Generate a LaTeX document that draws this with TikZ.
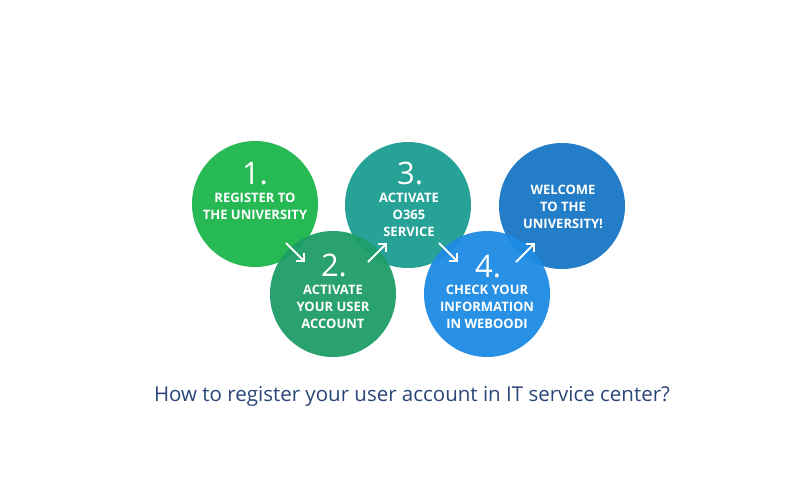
\documentclass[tikz,border=0pt]{standalone}
\usepackage{fontspec}
\setmainfont{Open Sans}
\definecolor{stepone}{RGB}{28, 182, 74}
\definecolor{steptwo}{RGB}{30, 158, 104}
\definecolor{stepthree}{RGB}{28, 158, 146}
\definecolor{stepfour}{RGB}{30, 140, 228}
\definecolor{stepfive}{RGB}{25, 120, 196}
\definecolor{captionblue}{RGB}{42, 70, 120}
\usetikzlibrary{arrows.meta, calc}
\tikzset{
    stepcircle/.style={circle, minimum size=126pt, inner sep=0pt,
        fill opacity=.95},
    stepnum/.style={text=white, inner sep=0pt, anchor=base,
        font=\fontsize{31}{31}\selectfont},
    steptext/.style={text=white, align=center, inner sep=0pt,
        font=\bfseries\fontsize{13}{17}\selectfont},
    steparrow/.style={white, line width=2pt,
        -{Straight Barb[length=5.5pt, width=11pt]}},
}

\begin{document}
\begin{tikzpicture}[x=1pt, y=-1pt]
        \useasboundingbox[fill=white] (0, 0) rectangle (810, 488);
        \foreach \n/\x/\y/\col in {1/255/204/stepone, 3/408/205/stepthree,
            5/562/206/stepfive, 2/333/294/steptwo, 4/487/294/stepfour}{
            \node[stepcircle, fill=\col] (c\n) at (\x, \y) {};
        }
        \node[stepnum] (n1) at (255, 184) {1.};
        \node[steptext] (t1) at (255, 206) {REGISTER TO\\THE UNIVERSITY};
        \node[stepnum] (n2) at (334, 276) {2.};
        \node[steptext] (t2) at (333, 307) {ACTIVATE\\YOUR USER\\ACCOUNT};
        \node[stepnum] (n3) at (410, 184) {3.};
        \node[steptext] (t3) at (409, 215) {ACTIVATE\\O365\\SERVICE};
        \node[stepnum] (n4) at (488, 277) {4.};
        \node[steptext] (t4) at (487, 307) {CHECK YOUR\\INFORMATION\\IN WEBOODI};
        \node[steptext] (t5) at (563, 207) {WELCOME\\TO THE\\UNIVERSITY!};
        % arrows between the circles
        \coordinate (a1s) at (286, 243);
        \coordinate (a1e) at (305, 262);
        \coordinate (a2s) at (368, 262);
        \coordinate (a2e) at (387, 243);
        \coordinate (a3s) at (439, 243);
        \coordinate (a3e) at (458, 262);
        \coordinate (a4s) at (516, 262);
        \coordinate (a4e) at (535, 243);
        \foreach \i in {1, 2, 3, 4}{
            \draw[steparrow] (a\i s) -- (a\i e);
        }
        \node[text=captionblue, font=\fontsize{20.5}{20.5}\selectfont] (caption)
            at (412, 396) {How to register your user account in IT service center?};
    \end{tikzpicture}
\end{document}
